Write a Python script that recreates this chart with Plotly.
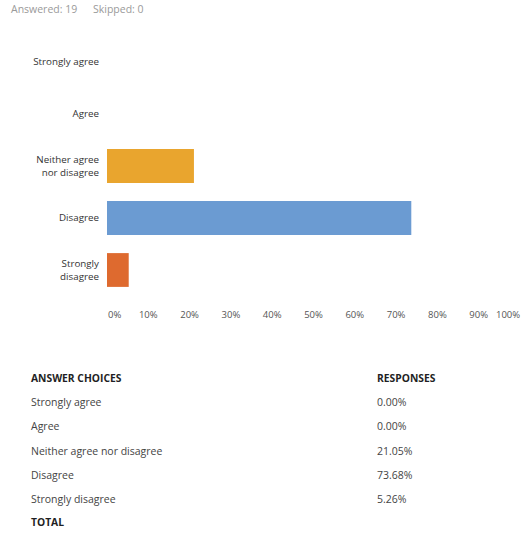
import plotly.graph_objects as go

# Survey question results
choices = ["Strongly agree", "Agree", "Neither agree nor disagree", "Disagree", "Strongly disagree"]
axis_labels = ["Strongly agree", "Agree", "Neither agree<br>nor disagree", "Disagree", "Strongly<br>disagree"]
responses = [0.00, 0.00, 21.05, 73.68, 5.26]
bar_colors = ["#6b9bd2", "#6b9bd2", "#e9a52e", "#6b9bd2", "#de6a2f"]
answered = 19
skipped = 0
tick_values = [10, 20, 30, 40, 50, 60, 70, 80, 90]

W, H = 529, 533
FONT = "Open Sans"


def py(px):
    """Convert a pixel offset from the top into paper y."""
    return 1 - px / H


fig = go.Figure(
    go.Bar(
        x=responses,
        y=axis_labels,
        orientation="h",
        marker=dict(color=bar_colors, line=dict(width=0)),
        hoverinfo="skip",
    )
)

fig.update_layout(
    width=W,
    height=H,
    margin=dict(l=0, r=0, t=0, b=0),
    paper_bgcolor="white",
    plot_bgcolor="white",
    showlegend=False,
    bargap=0.35,
    font=dict(family=FONT, size=9.5, color="#333"),
    xaxis=dict(
        domain=[107 / W, 520 / W],
        range=[0, 100],
        tickvals=tick_values,
        ticktext=[f"{v}%" for v in tick_values],
        showgrid=False,
        zeroline=False,
        showline=False,
        ticks="",
        ticklabelstandoff=11,
        tickfont=dict(family=FONT, size=9.5, color="#555"),
        fixedrange=True,
    ),
    yaxis=dict(
        domain=[py(296), py(36)],
        categoryorder="array",
        categoryarray=axis_labels,
        autorange="reversed",
        showgrid=False,
        zeroline=False,
        showline=False,
        ticks="",
        ticklabelstandoff=7,
        tickfont=dict(family=FONT, size=9.8, color="#333"),
        fixedrange=True,
    ),
)

annotations = []

# End labels of the percentage axis, aligned inward
tick_font = dict(family=FONT, size=9.5, color="#555")
annotations.append(dict(x=0, y=py(314), xref="x", yref="paper", text="0%", showarrow=False,
                        xanchor="left", yanchor="middle", xshift=-1, font=tick_font))
annotations.append(dict(x=100, y=py(314), xref="x", yref="paper", text="100%", showarrow=False,
                        xanchor="right", yanchor="middle", xshift=2, font=tick_font))

# Summary line at the top
top_font = dict(family=FONT, size=10.5, color="#9a9a9a")
annotations.append(dict(x=9 / W, y=py(9), xref="paper", yref="paper", text=f"Answered: {answered}",
                        showarrow=False, xanchor="left", yanchor="middle", font=top_font))
annotations.append(dict(x=91 / W, y=py(9), xref="paper", yref="paper", text=f"Skipped: {skipped}",
                        showarrow=False, xanchor="left", yanchor="middle", font=top_font))

# Results table below the chart
col1, col2 = 28.5 / W, 374.5 / W
header_font = dict(family=FONT, size=10.3, color="#1f1f24")
row_font = dict(family=FONT, size=10.5, color="#444")
annotations.append(dict(x=col1, y=py(378), xref="paper", yref="paper", text="<b>ANSWER CHOICES</b>",
                        showarrow=False, xanchor="left", yanchor="middle", font=header_font))
annotations.append(dict(x=col2, y=py(378), xref="paper", yref="paper", text="<b>RESPONSES</b>",
                        showarrow=False, xanchor="left", yanchor="middle", font=header_font))
for i, (name, val) in enumerate(zip(choices, responses)):
    y = py(402 + i * 24.3)
    annotations.append(dict(x=col1, y=y, xref="paper", yref="paper", text=name,
                            showarrow=False, xanchor="left", yanchor="middle", font=row_font))
    annotations.append(dict(x=col2, y=y, xref="paper", yref="paper", text=f"{val:.2f}%",
                            showarrow=False, xanchor="left", yanchor="middle", font=row_font))
annotations.append(dict(x=col1, y=py(522), xref="paper", yref="paper", text="<b>TOTAL</b>",
                        showarrow=False, xanchor="left", yanchor="middle", font=header_font))

fig.update_layout(annotations=annotations)

fig.write_html("out.html", config={"displayModeBar": False})
